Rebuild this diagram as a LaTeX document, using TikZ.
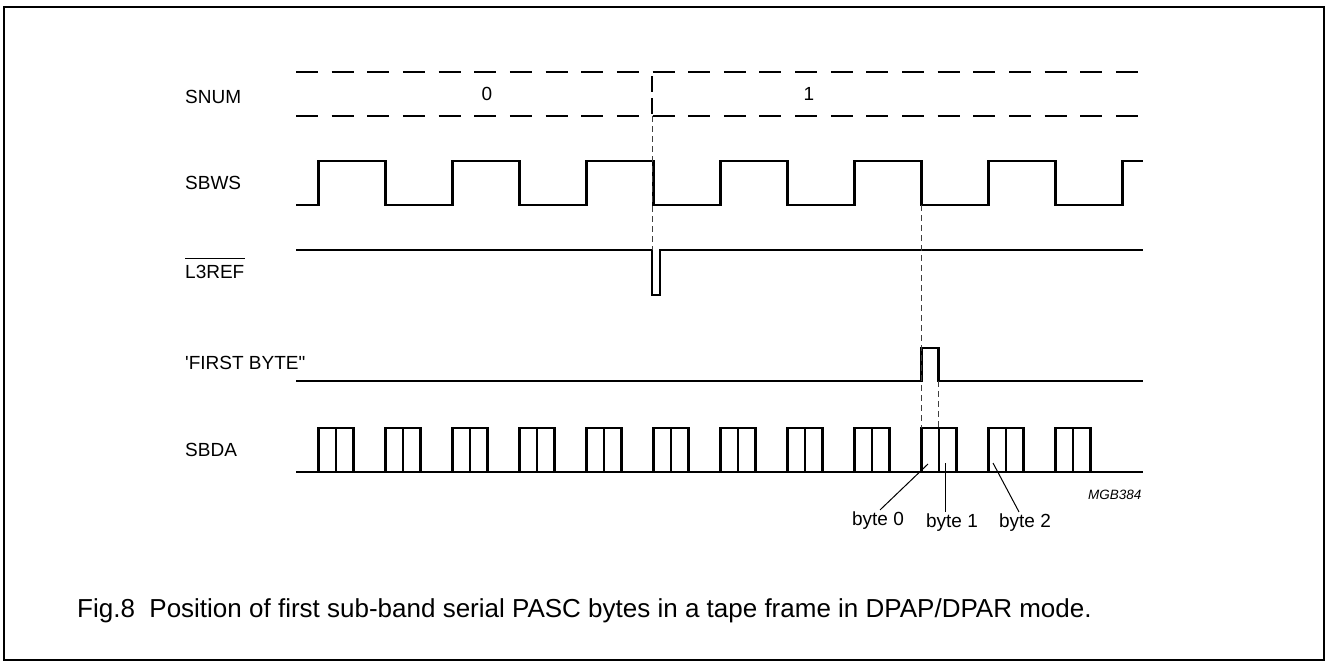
\documentclass[tikz,border=0pt]{standalone}
\usepackage{fontspec}
\setmainfont{Liberation Sans}
\usetikzlibrary{positioning}
\tikzset{
	sig/.style={line width=2.6pt, line join=miter},
	busline/.style={line width=2.6pt, dash pattern=on 22pt off 13.65pt},
	busedge/.style={line width=2.6pt, dash pattern=on 16pt off 6pt},
	guide/.style={line width=1pt, black!75, dash pattern=on 6pt off 4pt},
	lead/.style={line width=1pt},
	siglabel/.style={anchor=west, inner sep=0pt, font=\fontsize{19}{23}\selectfont},
	bytelabel/.style={inner sep=2pt, font=\fontsize{19}{23}\selectfont}
}

\begin{document}
\begin{tikzpicture}[x=1pt,y=-1pt]
	\useasboundingbox (0,0) rectangle (1326,662);
	\draw[line width=1.5pt] (4,7) rectangle (1324,660);

	% signal names
	\node[siglabel] at (185,97) (snum) {SNUM};
	\node[siglabel] at (185,183) (sbws) {SBWS};
	\node[siglabel] at (185,272) (lref) {L3REF};
	\draw[line width=1pt] ([yshift=7pt]lref.north west) -- ([yshift=7pt]lref.north east);
	\node[siglabel] at (185,363) (fbyte) {\textquotesingle FIRST BYTE\textquotedbl};
	\node[siglabel] at (185,450) (sbda) {SBDA};

	% SNUM bus
	\draw[busline] (296,72) -- (1140,72);
	\draw[busline] (296,116) -- (1140,116);
	\draw[busedge] (652,76) -- (652,116);
	\node[font=\fontsize{19}{23}\selectfont] at (487,94) (snum0) {0};
	\node[font=\fontsize{19}{23}\selectfont] at (809,94) (snum1) {1};

	% SBWS
	\draw[sig] (296,205) \foreach \k in {0,...,5}{
		-- ({318.5+134*\k},205) -- ({318.5+134*\k},161)
		-- ({385.5+134*\k},161) -- ({385.5+134*\k},205)}
		-- (1122.5,205) -- (1122.5,161) -- (1143,161);

	% L3REF
	\draw[sig] (296,250) -- (652,250) -- (652,295) -- (660,295) -- (660,250) -- (1143,250);

	% FIRST BYTE
	\draw[sig] (296,381) -- (921.5,381) -- (921.5,348) -- (938.5,348) -- (938.5,381) -- (1143,381);

	% SBDA
	\draw[sig] (296,472) -- (1143,472);
	\foreach \k in {0,...,11}{
		\draw[sig] ({318.5+67*\k},472) -- ({318.5+67*\k},428)
			-- ({353.5+67*\k},428) -- ({353.5+67*\k},472);
		\draw[sig] ({336+67*\k},428) -- ({336+67*\k},472);
	}

	% timing guides
	\draw[guide] (652,116) -- (652,250);
	\draw[guide] (921.5,205) -- (921.5,428);
	\draw[guide] (938.5,381) -- (938.5,428);

	% byte marks
	\node[bytelabel] at (878,521) (byte0) {byte 0};
	\node[bytelabel] at (952,523) (byte1) {byte 1};
	\node[bytelabel] at (1025,523) (byte2) {byte 2};
	\coordinate (p0) at (928,464);
	\coordinate (p1) at (945,463);
	\coordinate (p2) at (993,463);
	\draw[lead] ([xshift=2pt]byte0.north) -- (p0);
	\draw[lead] (byte1.north -| p1) -- (p1);
	\draw[lead] ([xshift=-6pt]byte2.north) -- (p2);

	\node[anchor=west, inner sep=0pt, font=\fontsize{13.5}{15}\selectfont\itshape] at (1088,495) (code) {MGB384};

	% caption
	\node[anchor=west, inner sep=0pt, font=\fontsize{26}{30}\selectfont] at (77,611) (caption)
		{Fig.8~~Position of first sub-band serial PASC bytes in a tape frame in DPAP/DPAR mode.};
\end{tikzpicture}
\end{document}
